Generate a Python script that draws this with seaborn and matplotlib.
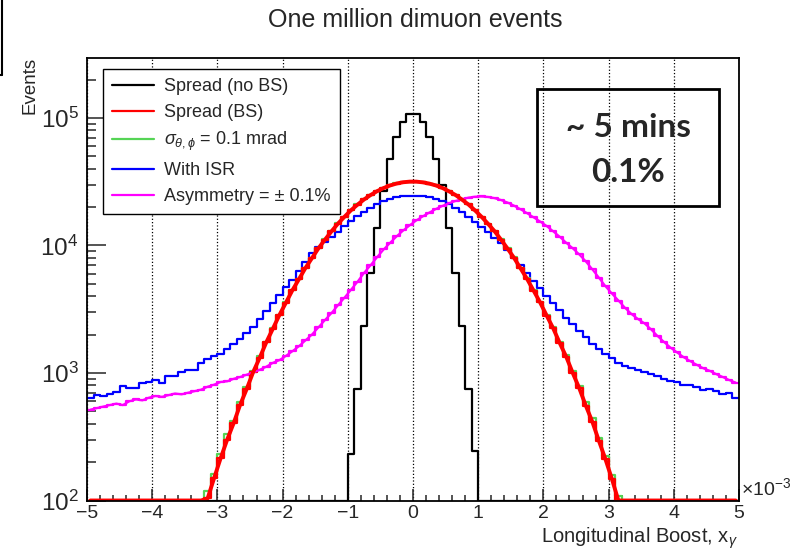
import numpy as np
import pandas as pd
import matplotlib
matplotlib.use("Agg")
import matplotlib.pyplot as plt
from matplotlib.lines import Line2D
from matplotlib.patches import Rectangle
from matplotlib.ticker import MultipleLocator, LogLocator, NullFormatter
import seaborn as sns

# binning: 100 bins between -5 and 5 (x 10^-3)
x_lo, x_hi, n_bins = -5.0, 5.0, 100
y_floor, y_top = 100, 2.95e5

# events per bin (left edge -> right edge)
spread_nobs = [0] * 40 + [
    231, 745, 2350, 6050, 13600, 26900, 47400, 71300, 93500, 107000,
    107000, 93500, 71300, 47400, 29800, 13600, 6050, 2350, 745, 246,
] + [0] * 40

spread_bs = [0] * 18 + [
    104, 150, 215, 300, 405, 565, 750, 1020, 1320, 1740,
    2220, 2840, 3550, 4450, 5430, 6650, 7950, 9500, 11100, 12900,
    14850, 16800, 18900, 20900, 22950, 24850, 26650, 28200, 29550, 30600,
    31300, 31650,
    31650, 31250, 30550, 29550, 28250, 26600, 24900, 22900, 20950, 18850,
    16800, 14800, 12950, 11100, 9450, 7990, 6600, 5460, 4420, 3570,
    2820, 2240, 1720, 1340, 1000, 760, 555, 415, 295, 212,
    148, 100,
] + [0] * 18

sigma_01 = [0] * 18 + [
    118, 160, 230, 330, 420, 590, 770, 1040, 1350, 1760,
    2250, 2870, 3580, 4470, 5460, 6680, 7990, 9530, 11150, 12950,
    14900, 16850, 18950, 20950, 23000, 24900, 26700, 28250, 29600, 30650,
    31350, 31700,
    31700, 31300, 30600, 29600, 28300, 26650, 24950, 22950, 21000, 18900,
    16850, 14850, 13000, 11150, 9500, 8050, 6660, 5520, 4480, 3620,
    2860, 2280, 1760, 1380, 1040, 790, 590, 440, 310, 225,
    158, 108,
] + [0] * 18

with_isr = [
    640, 672, 660, 685, 715, 790, 765, 765, 830, 850,
    880, 840, 950, 950, 1025, 1055, 1060, 1190, 1280, 1350,
    1400, 1550, 1680, 1850, 2050, 2300, 2650, 3050, 3550, 4100,
    4700, 5400, 6300, 7400, 8700, 9700, 10600, 11700, 12800, 14100,
    15500, 16900, 18400, 19800, 21100, 22300, 23200, 23900, 24300, 24400,
    24300, 24200, 24000, 23300, 22200, 21000, 19700, 18200, 16800, 15300,
    13900, 12700, 11500, 10400, 9200, 8000, 7000, 6100, 5300, 4600,
    4050, 3550, 3100, 2700, 2400, 2150, 1900, 1700, 1540, 1400,
    1300, 1190, 1140, 1090, 1050, 1010, 980, 950, 900, 860,
    850, 810, 800, 780, 740, 750, 720, 680, 700, 640,
]

asymmetry = [
    515, 530, 545, 560, 575, 560, 600, 620, 610, 640,
    660, 650, 670, 690, 680, 700, 720, 740, 780, 810,
    850, 860, 900, 930, 970, 1010, 1060, 1120, 1200, 1260,
    1360, 1480, 1620, 1800, 2000, 2280, 2600, 2950, 3400, 3900,
    4500, 5200, 6100, 7000, 8100, 9300, 10500, 11800, 13100, 14400,
    15700, 16900, 18100, 19300, 20400, 21400, 22300, 23000, 23700, 24100,
    24200, 24000, 23500, 22700, 21700, 20500, 19200, 17900, 16600, 15400,
    14200, 12900, 11700, 10500, 9500, 8500, 7500, 6500, 5600, 4800,
    4200, 3700, 3250, 2900, 2650, 2450, 2200, 1950, 1750, 1580,
    1450, 1330, 1240, 1160, 1090, 1040, 980, 930, 880, 840,
]

labels = ["Spread (no BS)", "Spread (BS)", r"$\sigma_{\theta,\phi}$ = 0.1 mrad",
          "With ISR", "Asymmetry = \u00b1 0.1%"]
colors = ["#000000", "#ff0000", "#55d455", "#0000ff", "#ff00ff"]
x_ticks = [-5, -4, -3, -2, -1, 0, 1, 2, 3, 4, 5]
x_tick_labels = ["\u22125", "\u22124", "\u22123", "\u22122", "\u22121", "0", "1", "2", "3", "4", "5"]

edges = np.linspace(x_lo, x_hi, n_bins + 1)
centers = 0.5 * (edges[:-1] + edges[1:])

sns.set_style("ticks")
plt.rcParams["font.family"] = ["Liberation Sans", "DejaVu Sans"]
plt.rcParams["mathtext.fontset"] = "custom"
plt.rcParams["mathtext.rm"] = "Liberation Sans"
plt.rcParams["mathtext.it"] = "Liberation Sans:italic"
plt.rcParams["mathtext.bf"] = "Liberation Sans:bold"

fig = plt.figure(figsize=(8.05, 5.5), dpi=100)
ax = fig.add_axes([87 / 805, 1 - 500.5 / 550, 652 / 805, 442.5 / 550])

series = [spread_nobs, asymmetry, with_isr, sigma_01, spread_bs]
cols = [colors[0], colors[4], colors[3], colors[2], colors[1]]
for vals, col in zip(series, cols):
    # ROOT draws empty bins on the axis floor
    df = pd.DataFrame({"x": centers,
                       "w": np.maximum(np.array(vals, dtype=float), y_floor)})
    sns.histplot(data=df, x="x", weights="w", binwidth=0.1, binrange=(x_lo, x_hi),
                 element="step", fill=False, color=col, linewidth=1.6, ax=ax)

# smoothed curves drawn on top of the histograms
sns.lineplot(x=centers, y=np.maximum(np.array(asymmetry, float), y_floor),
             color=colors[4], linewidth=1.6, ax=ax)
sns.lineplot(x=centers, y=np.maximum(np.array(spread_bs, float), y_floor),
             color=colors[1], linewidth=2.8, ax=ax)

ax.set_yscale("log")
ax.set_xlim(x_lo, x_hi)
ax.set_ylim(y_floor, y_top)
ax.set_xlabel("")
ax.set_ylabel("")

ax.set_xticks(x_ticks)
ax.set_xticklabels(x_tick_labels)
ax.xaxis.set_minor_locator(MultipleLocator(0.2))
ax.yaxis.set_major_locator(LogLocator(base=10))
ax.yaxis.set_minor_locator(LogLocator(base=10, subs=np.arange(2, 10)))
ax.yaxis.set_minor_formatter(NullFormatter())
ax.tick_params(axis="x", which="major", direction="in", length=8.5, width=1.1,
               labelsize=14, pad=3)
ax.tick_params(axis="x", which="minor", direction="in", length=4.3, width=1.1)
ax.tick_params(axis="y", which="major", direction="in", length=13.5, width=1.1,
               labelsize=17.5, pad=6)
ax.tick_params(axis="y", which="minor", direction="in", length=6.5, width=1.1)
ax.grid(axis="x", which="major", linestyle=":", color="black", linewidth=0.9)
for sp in ax.spines.values():
    sp.set_linewidth(1.3)
    sp.set_color("black")

handles = [Line2D([], [], color=c, linewidth=1.6) for c in colors]
leg = ax.legend(handles, labels, loc="upper left", bbox_to_anchor=(0.0245, 0.975),
                borderaxespad=0, fontsize=13, frameon=True, fancybox=False,
                edgecolor="black", framealpha=1, handlelength=2.3,
                handletextpad=0.6, labelspacing=0.5, borderpad=0.5)
leg.get_frame().set_linewidth(1.0)

fig.text(415 / 805, 1 - 20 / 550, "One million dimuon events", ha="center",
         va="center", fontsize=18)
fig.text(30 / 805, 1 - 57 / 550, "Events", rotation=90, ha="center", va="top",
         fontsize=13.5)
fig.text(738 / 805, 1 - 538 / 550, r"Longitudinal Boost, x$_{\gamma}$", ha="right",
         va="center", fontsize=14.5)
fig.text(741 / 805, 1 - 499 / 550, r"$\times$10$^{-3}$", ha="left", va="bottom",
         fontsize=14)

# annotation box
fig.add_artist(Rectangle((537 / 805, 1 - 206 / 550), 182 / 805, 117 / 550,
                         transform=fig.transFigure, fill=False,
                         edgecolor="black", linewidth=2))
fig.text(628 / 805, 1 - 128 / 550, "~ 5 mins", ha="center", va="center",
         fontsize=24, fontweight="bold", family=["Lato", "DejaVu Sans"])
fig.text(628 / 805, 1 - 172 / 550, "0.1%", ha="center", va="center",
         fontsize=24, fontweight="bold", family=["Lato", "DejaVu Sans"])

# stray frame edge in the top-left corner of the original canvas
fig.add_artist(Line2D([2 / 805, 2 / 805], [1, 1 - 75 / 550], color="black",
                      linewidth=1.5, transform=fig.transFigure))
fig.add_artist(Line2D([0, 2 / 805], [1 - 75 / 550, 1 - 75 / 550], color="black",
                      linewidth=1.5, transform=fig.transFigure))

fig.savefig("out.png", dpi=100)
